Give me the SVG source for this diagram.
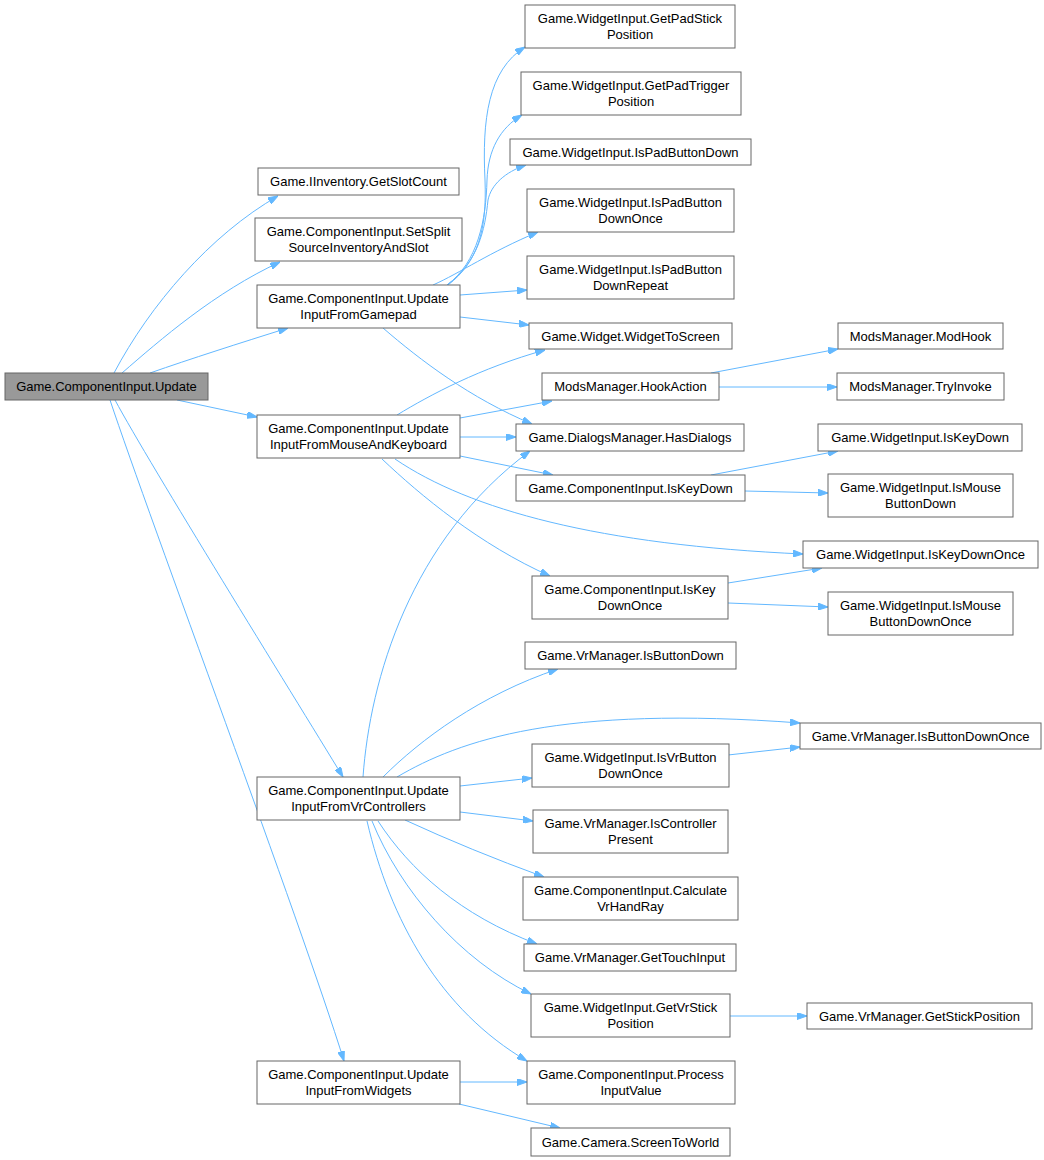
<svg xmlns="http://www.w3.org/2000/svg" width="1044" height="1160" viewBox="0 0 1044 1160">
<style>
.n rect{fill:#fff;stroke:#666;stroke-width:1}
.n.root rect{fill:#999}
.n text{font-family:"Liberation Sans",Arial,sans-serif;font-size:13px;fill:#000;text-anchor:middle}
.e path{fill:none;stroke:#63b8ff;stroke-width:1;marker-end:url(#ah)}
</style>
<defs>
<marker id="ah" viewBox="0 0 10 7" refX="10" refY="3.5" markerWidth="10" markerHeight="7" markerUnits="userSpaceOnUse" orient="auto">
<path d="M0,0 L10,3.5 L0,7 z" fill="#63b8ff" stroke="#63b8ff"/>
</marker>
</defs>
<rect width="1044" height="1160" fill="#fff"/>
<g id="edges" class="e">
<path d="M114,373 C150,305 210,235 278,196"/>
<path d="M122,373 C160,340 215,292 280,262"/>
<path d="M150,373 C190,359 240,343 288,328"/>
<path d="M177,400 L257,417"/>
<path d="M115,400 C150,465 290,690 343,777"/>
<path d="M110,400 C150,520 300,920 344,1061"/>
<path d="M448,285 C478,262 487,230 485,180 C482,120 488,70 525,47"/>
<path d="M447,285 C478,262 486,220 487,180 C488,150 500,128 522,115"/>
<path d="M447,285 C478,262 485,230 488,200 C491,185 505,172 526,165"/>
<path d="M433,285 C460,273 490,252 538,232"/>
<path d="M460,295 L527,290"/>
<path d="M460,317 L529,325"/>
<path d="M383,328 C420,360 470,398 532,424"/>
<path d="M397,415 C430,395 480,368 545,350"/>
<path d="M460,418 L552,401"/>
<path d="M460,437 L516,437"/>
<path d="M460,456 L553,475"/>
<path d="M395,459 C470,510 600,545 803,554"/>
<path d="M382,459 C420,495 480,545 550,576"/>
<path d="M711,373 L838,349"/>
<path d="M719,387 L837,387"/>
<path d="M711,475 L838,451"/>
<path d="M745,491 L828,493"/>
<path d="M728,583 L822,568"/>
<path d="M728,603 L828,607"/>
<path d="M363,777 C370,680 410,540 530,451"/>
<path d="M383,777 C420,740 480,695 558,669"/>
<path d="M397,777 C460,740 560,705 800,723"/>
<path d="M728,755 L800,747"/>
<path d="M460,786 L532,778"/>
<path d="M460,812 L533,821"/>
<path d="M405,820 Q470,850 544,877"/>
<path d="M378,821 C410,870 460,915 537,944"/>
<path d="M372,821 C400,890 460,960 531,994"/>
<path d="M367,821 C390,920 440,1010 527,1061"/>
<path d="M730,1016 L807,1016"/>
<path d="M460,1082 L527,1082"/>
<path d="M459,1104 L560,1128"/>
</g>
<g id="n0" class="n root"><rect x="5" y="373" width="203" height="27"/><text x="106.5" y="391">Game.ComponentInput.Update</text></g>
<g id="n1" class="n"><rect x="258" y="168" width="201" height="27"/><text x="358.5" y="186">Game.IInventory.GetSlotCount</text></g>
<g id="n2" class="n"><rect x="255" y="218" width="207" height="43"/><text x="358.5" y="235.5">Game.ComponentInput.SetSplit</text><text x="358.5" y="251.5">SourceInventoryAndSlot</text></g>
<g id="n3" class="n"><rect x="257" y="285" width="203" height="43"/><text x="358.5" y="302.5">Game.ComponentInput.Update</text><text x="358.5" y="318.5">InputFromGamepad</text></g>
<g id="n4" class="n"><rect x="257" y="415" width="203" height="43"/><text x="358.5" y="432.5">Game.ComponentInput.Update</text><text x="358.5" y="448.5">InputFromMouseAndKeyboard</text></g>
<g id="n5" class="n"><rect x="257" y="777" width="203" height="43"/><text x="358.5" y="794.5">Game.ComponentInput.Update</text><text x="358.5" y="810.5">InputFromVrControllers</text></g>
<g id="n6" class="n"><rect x="257" y="1061" width="203" height="43"/><text x="358.5" y="1078.5">Game.ComponentInput.Update</text><text x="358.5" y="1094.5">InputFromWidgets</text></g>
<g id="n7" class="n"><rect x="525" y="5" width="210" height="43"/><text x="630" y="22.5">Game.WidgetInput.GetPadStick</text><text x="630" y="38.5">Position</text></g>
<g id="n8" class="n"><rect x="521" y="72" width="220" height="43"/><text x="631" y="89.5">Game.WidgetInput.GetPadTrigger</text><text x="631" y="105.5">Position</text></g>
<g id="n9" class="n"><rect x="510" y="139" width="241" height="26"/><text x="630.5" y="156.5">Game.WidgetInput.IsPadButtonDown</text></g>
<g id="n10" class="n"><rect x="527" y="189" width="207" height="43"/><text x="630.5" y="206.5">Game.WidgetInput.IsPadButton</text><text x="630.5" y="222.5">DownOnce</text></g>
<g id="n11" class="n"><rect x="527" y="256" width="207" height="43"/><text x="630.5" y="273.5">Game.WidgetInput.IsPadButton</text><text x="630.5" y="289.5">DownRepeat</text></g>
<g id="n12" class="n"><rect x="529" y="323" width="203" height="26"/><text x="630.5" y="340.5">Game.Widget.WidgetToScreen</text></g>
<g id="n13" class="n"><rect x="542" y="373" width="177" height="27"/><text x="630.5" y="391">ModsManager.HookAction</text></g>
<g id="n14" class="n"><rect x="516" y="424" width="228" height="27"/><text x="630" y="442">Game.DialogsManager.HasDialogs</text></g>
<g id="n15" class="n"><rect x="516" y="475" width="229" height="26"/><text x="630.5" y="492.5">Game.ComponentInput.IsKeyDown</text></g>
<g id="n16" class="n"><rect x="532" y="576" width="196" height="43"/><text x="630" y="593.5">Game.ComponentInput.IsKey</text><text x="630" y="609.5">DownOnce</text></g>
<g id="n17" class="n"><rect x="525" y="642" width="211" height="27"/><text x="630.5" y="660">Game.VrManager.IsButtonDown</text></g>
<g id="n18" class="n"><rect x="532" y="744" width="197" height="43"/><text x="630.5" y="761.5">Game.WidgetInput.IsVrButton</text><text x="630.5" y="777.5">DownOnce</text></g>
<g id="n19" class="n"><rect x="533" y="810" width="195" height="43"/><text x="630.5" y="827.5">Game.VrManager.IsController</text><text x="630.5" y="843.5">Present</text></g>
<g id="n20" class="n"><rect x="523" y="877" width="215" height="43"/><text x="630.5" y="894.5">Game.ComponentInput.Calculate</text><text x="630.5" y="910.5">VrHandRay</text></g>
<g id="n21" class="n"><rect x="524" y="944" width="212" height="27"/><text x="630" y="962">Game.VrManager.GetTouchInput</text></g>
<g id="n22" class="n"><rect x="531" y="994" width="199" height="43"/><text x="630.5" y="1011.5">Game.WidgetInput.GetVrStick</text><text x="630.5" y="1027.5">Position</text></g>
<g id="n23" class="n"><rect x="527" y="1061" width="208" height="43"/><text x="631" y="1078.5">Game.ComponentInput.Process</text><text x="631" y="1094.5">InputValue</text></g>
<g id="n24" class="n"><rect x="531" y="1128" width="199" height="28"/><text x="630.5" y="1146.5">Game.Camera.ScreenToWorld</text></g>
<g id="n25" class="n"><rect x="838" y="323" width="165" height="26"/><text x="920.5" y="340.5">ModsManager.ModHook</text></g>
<g id="n26" class="n"><rect x="837" y="373" width="167" height="27"/><text x="920.5" y="391">ModsManager.TryInvoke</text></g>
<g id="n27" class="n"><rect x="818" y="424" width="204" height="27"/><text x="920" y="442">Game.WidgetInput.IsKeyDown</text></g>
<g id="n28" class="n"><rect x="828" y="474" width="185" height="43"/><text x="920.5" y="491.5">Game.WidgetInput.IsMouse</text><text x="920.5" y="507.5">ButtonDown</text></g>
<g id="n29" class="n"><rect x="803" y="541" width="235" height="27"/><text x="920.5" y="559">Game.WidgetInput.IsKeyDownOnce</text></g>
<g id="n30" class="n"><rect x="828" y="592" width="185" height="43"/><text x="920.5" y="609.5">Game.WidgetInput.IsMouse</text><text x="920.5" y="625.5">ButtonDownOnce</text></g>
<g id="n31" class="n"><rect x="800" y="723" width="241" height="26"/><text x="920.5" y="740.5">Game.VrManager.IsButtonDownOnce</text></g>
<g id="n32" class="n"><rect x="807" y="1003" width="225" height="26"/><text x="919.5" y="1020.5">Game.VrManager.GetStickPosition</text></g>
</svg>
